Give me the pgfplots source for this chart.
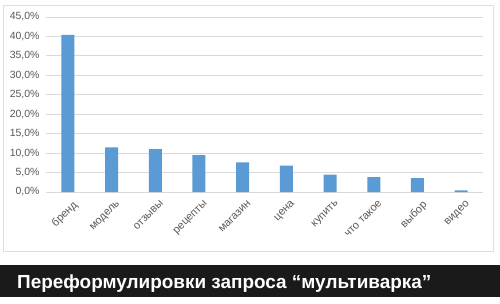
\documentclass[border=0pt]{standalone}
\usepackage{fontspec}
\setmainfont{Liberation Sans}
\usepackage{pgfplots}
\pgfplotsset{compat=1.18}
\definecolor{barblue}{HTML}{5B9BD5}
\definecolor{tickgray}{HTML}{595959}
\definecolor{gridgray}{HTML}{D9D9D9}
\definecolor{band}{HTML}{1A1A1A}
\begin{document}
\begin{tikzpicture}[x=1bp,y=1bp]
\path[use as bounding box] (0,0) rectangle (500,303);
\fill[white] (0,0) rectangle (500,303);
\draw[gray!25, line width=0.8bp] (3.5,52) rectangle (493,297.5);
\fill[band] (0,6) rectangle (500,38);
\node[anchor=base west, text=white, font=\bfseries\fontsize{19}{22}\selectfont, inner sep=0] at (17,14.5) {Переформулировки запроса “мультиварка”};
\begin{axis}[
  at={(46bp,111bp)}, anchor=south west,
  scale only axis, width=437bp, height=175bp,
  xmin=-0.5, xmax=9.5, ymin=0, ymax=45,
  ybar, bar width=13bp,
  axis line style={draw=none},
  major tick length=0,
  ymajorgrids, grid style={gridgray, line width=0.8bp},
  ytick={0,5,...,45},
  yticklabels={0{,}0\%,5{,}0\%,10{,}0\%,15{,}0\%,20{,}0\%,25{,}0\%,30{,}0\%,35{,}0\%,40{,}0\%,45{,}0\%},
  yticklabel style={font=\fontsize{10.5}{12}\selectfont, text=tickgray, xshift=-3bp},
  xtick={0,...,9},
  xticklabels={бренд,модель,отзывы,рецепты,магазин,цена,купить,что такое,выбор,видео},
  xticklabel style={rotate=45, anchor=north east, font=\fontsize{11}{13}\selectfont, text=tickgray, xshift=1bp, yshift=-5bp},
]
\addplot[fill=barblue, draw=none] coordinates {(0,40.4) (1,11.5) (2,11.0) (3,9.5) (4,7.6) (5,6.8) (6,4.5) (7,3.8) (8,3.6) (9,0.4)};
\end{axis}
\end{tikzpicture}
\end{document}
